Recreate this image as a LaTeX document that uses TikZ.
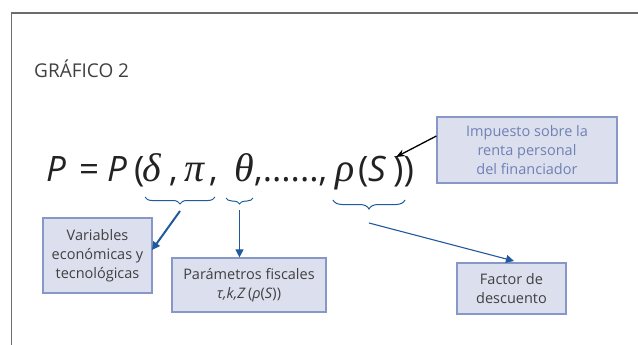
\documentclass[tikz,border=0pt]{standalone}
\usepackage{fontspec}
\setmainfont{Open Sans}
\newfontfamily\grk{Liberation Serif}
\usetikzlibrary{decorations.pathreplacing,arrows.meta}
\definecolor{boxfill}{HTML}{DCE0EE}
\definecolor{boxline}{HTML}{8797C8}
\definecolor{bluetxt}{HTML}{6F80B4}
\definecolor{bracecol}{HTML}{1F5A9C}
\definecolor{txt}{HTML}{404040}
\definecolor{eqcol}{HTML}{222222}
\tikzset{
  infobox/.style={draw=boxline, line width=1.2pt, fill=boxfill, text=txt, font=\fontsize{14.5}{19}\selectfont, align=center, inner sep=0pt},
  brc/.style={draw=bracecol, line width=1pt, decorate, decoration={brace, mirror, amplitude=7pt, aspect=0.5}},
  arr/.style={draw=bracecol, line width=1.1pt, -{Triangle[length=8pt,width=8pt]}},
  eqp/.style={anchor=base west, inner sep=0pt, text=eqcol, font=\fontsize{35}{40}\selectfont},
  eqg/.style={anchor=base west, inner sep=0pt, text=eqcol, font=\fontsize{40}{44}\selectfont\grk\itshape},
}
\begin{document}
\begin{tikzpicture}[x=1pt,y=-1pt]
\useasboundingbox (0,0) rectangle (638,345);
\draw[draw=gray!85!black, line width=1.2pt] (11.5,345) -- (11.5,13) -- (638,13);
\node[anchor=base west, text=txt, font=\fontsize{19}{22}\selectfont, inner sep=0pt] (title) at (34,78) {GRÁFICO 2};
% equation pieces
\node[eqp] (e1) at (46,182) {\itshape P};
\node[eqp] (e2) at (79,182) {=};
\node[eqp] (e3) at (107,182) {\itshape P};
\node[eqp] (e4) at (134,182) {(};
\node[eqg] (e5) at (142,182) {δ};
\node[eqp] (e6) at (169,182) {,};
\node[eqg] (e7) at (184,182) {π};
\node[eqp] (e8) at (209,182) {,};
\node[eqg] (e9) at (234,182) {θ};
\node[eqp] (e10) at (254,182) {,......,};
\node[eqg] (e11) at (335,182) {ρ};
\node[eqp] (e12) at (358,182) {(};
\node[eqp] (e13) at (368,182) {\itshape S};
\node[eqp] (e14) at (393,182) {))};
% boxes
\node[infobox, text=bluetxt, minimum width=180pt, minimum height=66pt] (imp) at (527,150) {Impuesto sobre la\\renta personal\\del financiador};
\node[infobox, minimum width=109pt, minimum height=75pt] (var) at (97.5,255.5) {Variables\\económicas y\\tecnológicas};
\node[infobox, minimum width=154pt, minimum height=54pt] (par) at (249,285) {Parámetros fiscales\\ \textit{τ,k,Z}\,(\textit{ρ}(\textit{S}))};
\node[infobox, minimum width=109pt, minimum height=51pt] (fac) at (511.5,288.5) {Factor de\\descuento};
% braces
\coordinate (b1l) at (145,197); \coordinate (b1r) at (215,197);
\coordinate (b2l) at (226,198); \coordinate (b2r) at (253,198);
\coordinate (b3l) at (333,200); \coordinate (b3r) at (405,200);
\draw[brc] (b1l) -- (b1r);
\draw[brc, decoration={amplitude=6pt}] (b2l) -- (b2r);
\draw[brc, decoration={amplitude=9pt}] (b3l) -- (b3r);
\coordinate (t1) at (180,211);
\coordinate (t2) at (239.5,210);
\coordinate (t3) at (369,223);
\coordinate (s) at (396,157);
\draw[arr, line width=2pt] (t1) -- (152,250);
\draw[arr] (t2) -- (par.north -| t2);
\draw[arr] (t3) -- (514,261);
\draw[line width=1.3pt, -{Stealth[length=9pt,width=7pt]}] (imp.west |- 0,136) -- (s);
\end{tikzpicture}
\end{document}
